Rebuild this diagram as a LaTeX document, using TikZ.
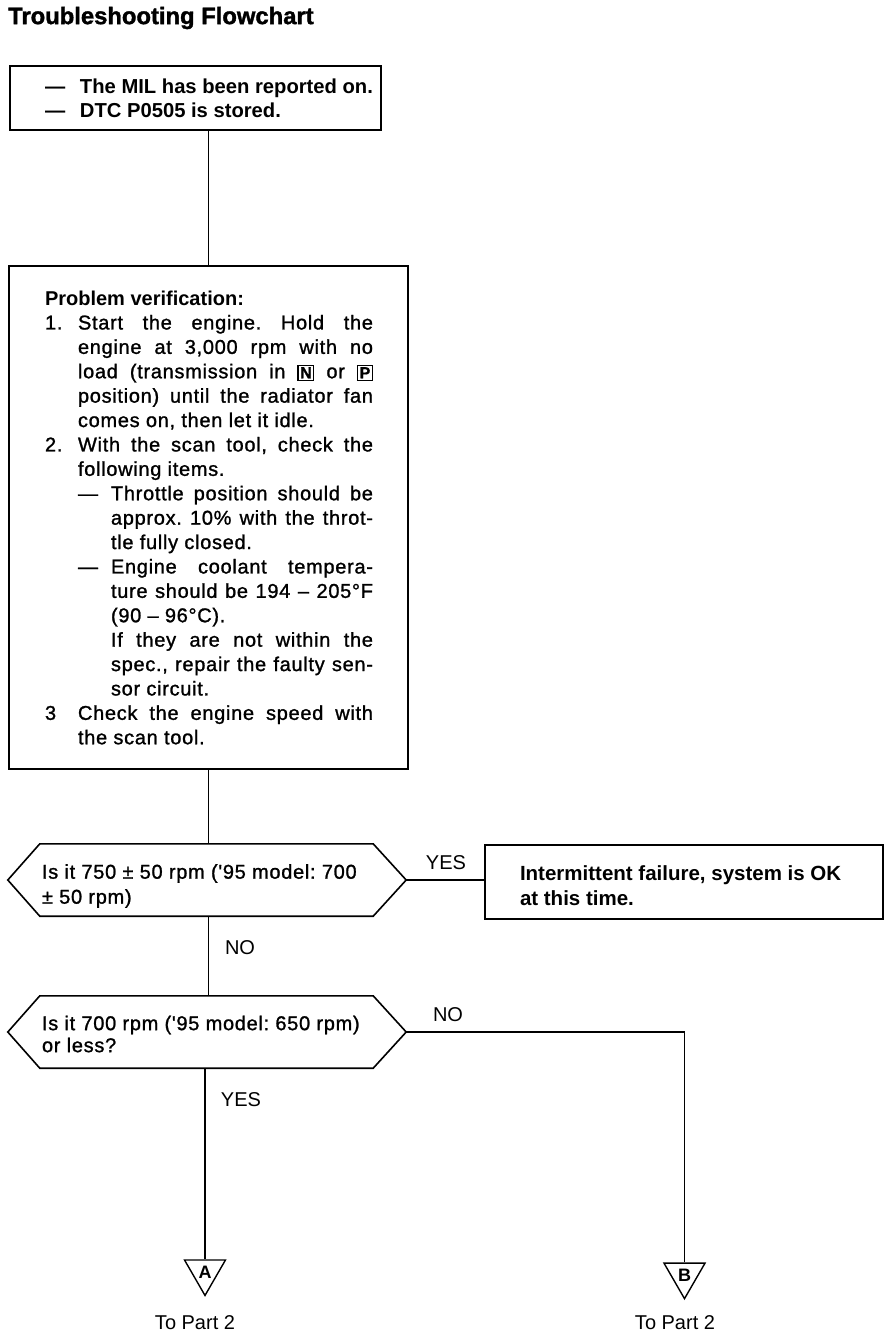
\documentclass[tikz,border=0pt]{standalone}
\usepackage{fontspec}
\setmainfont{Liberation Sans}
\newfontfamily\trackfont[LetterSpace=3.5,FakeBold=1.2]{Liberation Sans}
\newfontfamily\titrefont[FakeBold=1.5]{Liberation Sans Bold}
\usetikzlibrary{positioning,shapes.geometric}

\tikzset{
  trait/.style={line width=1.6pt},
  boite/.style={draw, trait, inner ysep=0pt, align=left},
  question/.style={inner xsep=2pt, inner ysep=0pt, align=left},
  ligne/.style={line width=1.3pt},
  reponse/.style={font=\fontsize{20}{24}\selectfont, inner sep=0pt},
  renvoi/.style={draw, line width=1.4pt, regular polygon, regular polygon sides=3,
    shape border rotate=180, minimum size=47.3pt, inner sep=0pt,
    font=\fontsize{18}{18}\selectfont\bfseries}
}
\newcommand{\jl}[1]{\makebox[295pt][s]{#1}}% ligne justifiee
\newcommand{\js}[1]{\makebox[262pt][s]{#1}}% sous-ligne justifiee
\newcommand{\touche}[1]{{\setlength{\fboxsep}{1.5pt}\setlength{\fboxrule}{1.2pt}\fbox{\fontsize{16}{16}\selectfont\bfseries #1}}}
\newcommand{\hexa}[1]{\draw[trait] (#1.north west) -- (#1.north east) -- ([xshift=33pt]#1.east) coordinate (#1d)
  -- (#1.south east) -- (#1.south west) -- ([xshift=-32pt]#1.west) coordinate (#1g) -- cycle;}

\begin{document}
\frenchspacing
\begin{tikzpicture}[x=1pt,y=-1pt]
\useasboundingbox (0,0) rectangle (896,1336);

\node[font=\fontsize{23.8}{28}\selectfont\titrefont, inner sep=0pt, anchor=west] (titre) at (8,18) {Troubleshooting Flowchart};

%les boites
\node[boite, minimum width=371, minimum height=64, inner xsep=0pt] (mil) at (195.5,98)
  {\parbox{371pt}{\fontsize{20.2}{24}\selectfont\bfseries\leftskip=35pt
   \makebox[35pt][l]{—}The MIL has been reported on.\\
   \makebox[35pt][l]{—}DTC P0505 is stored.}};

\node[boite, minimum width=399, minimum height=503, inner xsep=36pt] (verify) at (208.5,517.5)
  {\parbox{327pt}{\fontsize{20}{24.4}\selectfont
   \textbf{Problem verification:}\\
   \trackfont
   \makebox[33pt][l]{1.}\jl{Start the engine. Hold the}\\
   \hspace*{33pt}\jl{engine at 3,000 rpm with no}\\
   \hspace*{33pt}\jl{load (transmission in \touche{N} or \touche{P}}\\
   \hspace*{33pt}\jl{position) until the radiator fan}\\
   \hspace*{33pt}comes on, then let it idle.\\
   \makebox[33pt][l]{2.}\jl{With the scan tool, check the}\\
   \hspace*{33pt}following items.\\
   \hspace*{33pt}\makebox[33pt][l]{—}\js{Throttle position should be}\\
   \hspace*{66pt}\js{approx. 10\% with the throt-}\\
   \hspace*{66pt}tle fully closed.\\
   \hspace*{33pt}\makebox[33pt][l]{—}\js{Engine coolant tempera-}\\
   \hspace*{66pt}\js{ture should be 194 – 205°F}\\
   \hspace*{66pt}(90 – 96°C).\\
   \hspace*{66pt}\js{If they are not within the}\\
   \hspace*{66pt}\js{spec., repair the faulty sen-}\\
   \hspace*{66pt}sor circuit.\\
   \makebox[33pt][l]{3}\jl{Check the engine speed with}\\
   \hspace*{33pt}the scan tool.}};

\node[question, minimum width=333, minimum height=72] (q1) at (206.5,880)
  {\parbox{329pt}{\vspace*{12pt}\fontsize{20}{25}\selectfont\trackfont
   Is it 750 ± 50 rpm ('95 model: 700\\
   ± 50 rpm)}};
\hexa{q1}

\node[boite, minimum width=398, minimum height=74, inner xsep=35pt] (ok) at (684,882)
  {\parbox{328pt}{\vspace*{8pt}\fontsize{20.5}{25}\selectfont\bfseries
   Intermittent failure, system is OK\\
   at this time.}};

\node[question, minimum width=333, minimum height=72] (q2) at (206.5,1032)
  {\parbox{329pt}{\vspace*{4pt}\fontsize{20}{22}\selectfont\trackfont
   Is it 700 rpm ('95 model: 650 rpm)\\
   or less?}};
\hexa{q2}

%les renvois
\node[renvoi] (versA) at (205,1271.8) {A};
\node[renvoi] (versB) at (684.5,1275) {B};
\node[reponse] (partA) at (195,1323) {To Part 2};
\node[reponse] (partB) at (675,1323) {To Part 2};

%les traits
\draw[ligne] (mil.south -| verify.north) -- (verify.north);
\draw[ligne] (verify.south) -- (verify.south |- q1.north);
\draw[ligne] (q1d) -- (q1d -| ok.west);
\draw[ligne] (q1.south -| verify.south) -- (q2.north -| verify.south);
\draw[ligne] (q2.south -| versA.north) -- (versA.north);
\draw[ligne] (q2d) -| (versB.north);

\node[reponse] (oui1) at (446,863) {YES};
\node[reponse] (non1) at (240,948) {NO};
\node[reponse] (non2) at (448,1015) {NO};
\node[reponse] (oui2) at (241,1100) {YES};

\end{tikzpicture}
\end{document}
